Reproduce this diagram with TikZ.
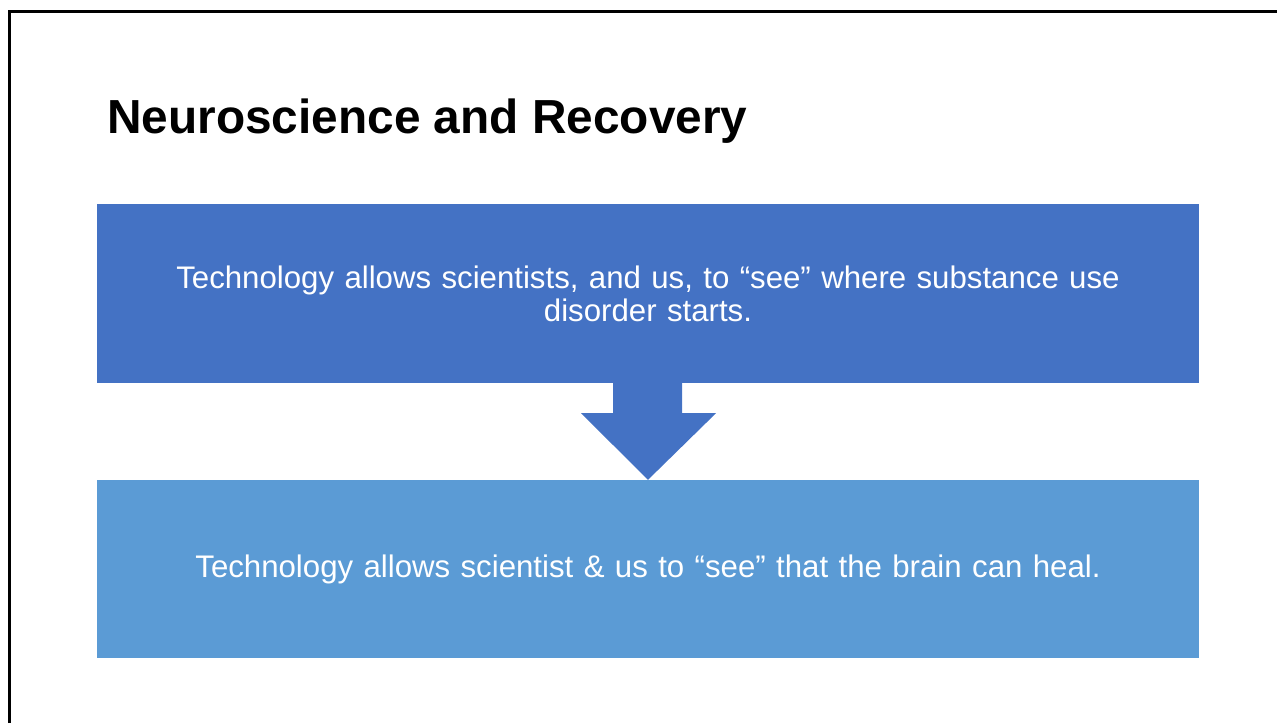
\documentclass[tikz,border=0pt]{standalone}
\usepackage{fontspec}
\setmainfont{Liberation Sans}
\usetikzlibrary{calc}

\definecolor{darkblue}{HTML}{4472C4}
\definecolor{lightblue}{HTML}{5B9BD5}

\tikzset{
    panel/.style={rectangle, inner sep=0pt, minimum width=1102pt,
        text width=1050pt, align=center, text=white,
        font=\fontsize{31.2}{33}\selectfont},
}

\begin{document}
\begin{tikzpicture}[x=1pt,y=1pt]

\useasboundingbox (0,0) rectangle (1277,723);

% Slide edge
\draw[line width=3pt] (9,0) -- (9,711) -- (1277,711);

% Title
\node[anchor=base west, inner sep=0pt, font=\fontsize{47.8}{56}\selectfont\bfseries]
    (title) at (107,589) {Neuroscience and Recovery};

% Boxes
\node[panel, fill=darkblue, minimum height=179pt] (top) at (648,429.5)
    {Technology allows scientists, and us, to “see” where substance use\\ disorder starts.};
\node[panel, fill=lightblue, minimum height=178pt] (bottom) at (648,154)
    {Technology allows scientist \& us to “see” that the brain can heal.};

% Block arrow
\fill[darkblue] ($(top.south)+(-35,0)$) -- ++(0,-30) -- ++(-32,0)
    -- (bottom.north) -- ($(top.south)+(68,-30)$) -- ++(-34,0)
    -- ($(top.south)+(34,0)$) -- cycle;

\end{tikzpicture}
\end{document}
